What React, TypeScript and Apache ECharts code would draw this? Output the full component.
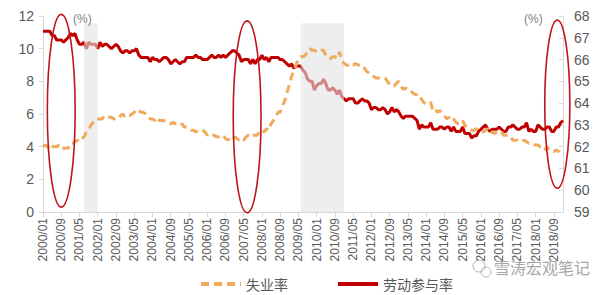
import React, { useEffect, useRef } from "react";
import * as echarts from "echarts";

// Monthly categories 2000/01 .. 2019/01
const categories: string[] = [];
for (let y = 2000; y <= 2018; y++) {
  for (let m = 1; m <= 12; m++) categories.push(`${y}/${m < 10 ? "0" + m : m}`);
}
categories.push("2019/01");

// 失业率 (%), left axis
const unemployment: number[] = [
  4.0, 4.1, 4.0, 3.8, 4.0, 4.0, 4.0, 4.1, 3.9, 3.9, 3.9, 3.9, // 2000
  4.2, 4.2, 4.3, 4.4, 4.3, 4.5, 4.6, 4.9, 5.0, 5.3, 5.5, 5.7, // 2001
  5.7, 5.7, 5.7, 5.9, 5.8, 5.8, 5.8, 5.7, 5.7, 5.7, 5.9, 6.0, // 2002
  5.8, 5.9, 5.9, 6.0, 6.1, 6.3, 6.2, 6.1, 6.1, 6.0, 5.8, 5.7, // 2003
  5.7, 5.6, 5.8, 5.6, 5.6, 5.6, 5.5, 5.4, 5.4, 5.5, 5.4, 5.4, // 2004
  5.3, 5.4, 5.2, 5.2, 5.1, 5.0, 5.0, 4.9, 5.0, 5.0, 5.0, 4.9, // 2005
  4.7, 4.8, 4.7, 4.7, 4.6, 4.6, 4.7, 4.7, 4.5, 4.4, 4.5, 4.4, // 2006
  4.6, 4.5, 4.4, 4.5, 4.4, 4.6, 4.7, 4.6, 4.7, 4.7, 4.7, 5.0, // 2007
  5.0, 4.9, 5.1, 5.0, 5.4, 5.6, 5.8, 6.1, 6.1, 6.5, 6.8, 7.3, // 2008
  7.8, 8.3, 8.7, 9.0, 9.4, 9.5, 9.5, 9.6, 9.8, 10.0, 9.9, 9.9, // 2009
  9.8, 9.8, 9.9, 9.9, 9.6, 9.4, 9.4, 9.5, 9.5, 9.4, 9.8, 9.3, // 2010
  9.1, 9.0, 9.0, 9.1, 9.0, 9.1, 9.0, 9.0, 9.0, 8.8, 8.6, 8.5, // 2011
  8.3, 8.3, 8.2, 8.2, 8.2, 8.2, 8.2, 8.0, 7.8, 7.8, 7.7, 7.9, // 2012
  8.0, 7.7, 7.5, 7.6, 7.5, 7.5, 7.3, 7.2, 7.2, 7.2, 6.9, 6.7, // 2013
  6.6, 6.7, 6.7, 6.2, 6.3, 6.1, 6.2, 6.1, 5.9, 5.7, 5.8, 5.6, // 2014
  5.7, 5.5, 5.4, 5.4, 5.6, 5.3, 5.2, 5.1, 5.0, 5.0, 5.1, 5.0, // 2015
  4.9, 4.9, 5.0, 5.1, 4.8, 4.9, 4.8, 4.9, 5.0, 4.9, 4.7, 4.7, // 2016
  4.7, 4.6, 4.4, 4.4, 4.4, 4.3, 4.3, 4.4, 4.3, 4.2, 4.2, 4.1, // 2017
  4.1, 4.1, 4.0, 4.0, 3.8, 4.0, 3.8, 3.8, 3.7, 3.8, 3.7, 3.9, // 2018
  4.0, // 2019
];

// 劳动参与率 (%), right axis
const participation: number[] = [
  67.3, 67.3, 67.3, 67.3, 67.1, 67.1, 66.9, 66.9, 66.9, 66.8, 66.9, 67.0, // 2000
  67.2, 67.1, 67.2, 66.9, 66.7, 66.7, 66.8, 66.5, 66.8, 66.7, 66.7, 66.7, // 2001
  66.5, 66.8, 66.6, 66.7, 66.7, 66.6, 66.5, 66.6, 66.7, 66.6, 66.4, 66.3, // 2002
  66.4, 66.4, 66.3, 66.4, 66.4, 66.5, 66.2, 66.1, 66.1, 66.1, 66.1, 65.9, // 2003
  66.1, 66.0, 66.0, 65.9, 66.0, 66.1, 66.1, 66.0, 65.8, 65.9, 66.0, 65.9, // 2004
  65.8, 65.9, 65.9, 66.1, 66.1, 66.1, 66.1, 66.2, 66.1, 66.1, 66.0, 66.0, // 2005
  66.0, 66.1, 66.2, 66.1, 66.1, 66.2, 66.1, 66.2, 66.1, 66.2, 66.3, 66.4, // 2006
  66.4, 66.3, 66.2, 65.9, 66.0, 66.0, 66.0, 65.8, 66.0, 65.8, 66.0, 66.0, // 2007
  66.2, 66.0, 66.1, 65.9, 66.1, 66.1, 66.1, 66.1, 66.0, 66.0, 65.9, 65.8, // 2008
  65.7, 65.8, 65.6, 65.7, 65.7, 65.7, 65.5, 65.4, 65.1, 65.0, 65.0, 64.6, // 2009
  64.8, 64.9, 64.9, 65.1, 64.9, 64.6, 64.6, 64.7, 64.6, 64.4, 64.6, 64.3, // 2010
  64.2, 64.1, 64.2, 64.2, 64.2, 64.0, 64.0, 64.1, 64.2, 64.1, 64.1, 64.0, // 2011
  63.7, 63.8, 63.8, 63.7, 63.7, 63.8, 63.7, 63.5, 63.6, 63.8, 63.6, 63.7, // 2012
  63.6, 63.4, 63.3, 63.4, 63.4, 63.4, 63.4, 63.3, 63.2, 62.8, 63.0, 62.9, // 2013
  62.9, 62.9, 63.1, 62.8, 62.8, 62.8, 62.9, 62.9, 62.8, 62.9, 62.9, 62.7, // 2014
  62.9, 62.7, 62.7, 62.7, 62.9, 62.6, 62.6, 62.6, 62.4, 62.5, 62.5, 62.7, // 2015
  62.8, 62.9, 63.0, 62.8, 62.7, 62.8, 62.8, 62.8, 62.9, 62.8, 62.7, 62.7, // 2016
  62.9, 62.9, 63.0, 62.9, 62.8, 62.8, 62.9, 62.9, 63.1, 62.7, 62.8, 62.7, // 2017
  62.7, 63.0, 62.9, 62.8, 62.8, 62.9, 62.9, 62.7, 62.7, 62.9, 62.9, 63.1, // 2018
  63.2, // 2019
];

// Shaded periods [start, end]
const shadedPeriods: [string, string][] = [
  ["2001/07", "2002/01"],
  ["2009/06", "2011/01"],
];
const shadeTop = 11.55;

// Highlight ellipses: centre (category index), half width in months, top/bottom in left-axis units
const highlights = [
  { center: 8, halfMonths: 6.1, top: 12.1, bottom: 0.3 },
  { center: 89.5, halfMonths: 6.1, top: 11.7, bottom: -0.05 },
  { center: 225.5, halfMonths: 5.5, top: 11.75, bottom: 1.45 },
];

const leftTicks = { min: 0, max: 12, interval: 2 };
const rightTicks = { min: 59, max: 68, interval: 1 };

const RED = "#C00000";
const ORANGE = "#F0AA5A";
const GRAY_TEXT = "#595959";
const AXIS_GRAY = "#D9D9D9";

export default function App() {
  const ref = useRef<HTMLDivElement>(null);

  useEffect(() => {
    if (!ref.current) return;
    const chart = echarts.init(ref.current, undefined, { renderer: "svg" });
    const option: any = {
      animation: false,
      grid: { left: 43, right: 37, top: 16, bottom: 83, containLabel: false },
      legend: {
        data: ["失业率", "劳动参与率"],
        left: 194,
        top: 272,
        itemGap: 48,
        itemWidth: 40,
        itemHeight: 12,
        itemStyle: { opacity: 0 },
        lineStyle: { width: 4 },
        textStyle: { fontFamily: "Noto Sans CJK SC", fontSize: 14, color: GRAY_TEXT },
      },
      xAxis: {
        type: "category",
        data: categories,
        boundaryGap: false,
        axisLine: { lineStyle: { color: AXIS_GRAY } },
        axisTick: { interval: 7, length: 5, lineStyle: { color: AXIS_GRAY } },
        axisLabel: {
          interval: 7,
          rotate: 90,
          fontSize: 12,
          color: GRAY_TEXT,
          fontFamily: "Liberation Sans",
          margin: 6,
        },
        splitLine: { show: false },
      },
      yAxis: [
        {
          type: "value",
          ...leftTicks,
          axisLine: { show: true, lineStyle: { color: AXIS_GRAY } },
          axisTick: { show: true, length: 4, lineStyle: { color: AXIS_GRAY } },
          axisLabel: { fontSize: 14, color: GRAY_TEXT, fontFamily: "Liberation Sans", margin: 9 },
          splitLine: { show: false },
        },
        {
          type: "value",
          ...rightTicks,
          position: "right",
          axisLine: { show: true, lineStyle: { color: AXIS_GRAY } },
          axisTick: { show: true, inside: true, length: 4, lineStyle: { color: AXIS_GRAY } },
          axisLabel: { fontSize: 14, color: GRAY_TEXT, fontFamily: "Liberation Sans", margin: 11 },
          splitLine: { show: false },
        },
      ],
      series: [
        {
          name: "劳动参与率",
          type: "line",
          yAxisIndex: 1,
          data: participation,
          showSymbol: false,
          symbol: "none",
          z: 2,
          lineStyle: { color: RED, width: 3 },
          itemStyle: { color: RED },
        },
        {
          name: "shade",
          type: "line",
          yAxisIndex: 0,
          data: [],
          symbol: "none",
          z: 3,
          markArea: {
            silent: true,
            z: 3,
            itemStyle: { color: "rgba(226,226,226,0.58)" },
            data: shadedPeriods.map(([a, b]) => [
              { xAxis: a, yAxis: 0 },
              { xAxis: b, yAxis: shadeTop },
            ]),
          },
        },
        {
          name: "失业率",
          type: "line",
          yAxisIndex: 0,
          data: unemployment,
          showSymbol: false,
          symbol: "none",
          z: 4,
          lineStyle: { color: ORANGE, width: 3, type: [8, 5] },
          itemStyle: { color: ORANGE },
        },
      ],
    };
    chart.setOption(option);

    const p0 = chart.convertToPixel({ xAxisIndex: 0, yAxisIndex: 0 }, [0, 0]) as number[];
    const p1 = chart.convertToPixel({ xAxisIndex: 0, yAxisIndex: 0 }, [1, 0]) as number[];
    const step = p1[0] - p0[0];
    const ellipses = highlights.map((h) => {
      const top = chart.convertToPixel({ yAxisIndex: 0 }, h.top) as number;
      const bottom = chart.convertToPixel({ yAxisIndex: 0 }, h.bottom) as number;
      return {
        type: "ellipse",
        shape: {
          cx: p0[0] + h.center * step,
          cy: (top + bottom) / 2,
          rx: h.halfMonths * step,
          ry: Math.abs(bottom - top) / 2,
        },
        style: { fill: "none", stroke: "#C0141C", lineWidth: 1.6 },
        z: 10,
        silent: true,
      };
    });

    chart.setOption({
      graphic: [
        ...ellipses,
        {
          type: "text",
          left: 73,
          top: 13,
          style: { text: "(%)", fontSize: 12, fill: "#7F7F7F", fontFamily: "Liberation Sans" },
          z: 11,
        },
        {
          type: "text",
          left: 524,
          top: 13,
          style: { text: "(%)", fontSize: 12, fill: "#7F7F7F", fontFamily: "Liberation Sans" },
          z: 11,
        },
        {
          type: "circle",
          shape: { cx: 479, cy: 266, r: 6 },
          style: { fill: "none", stroke: "#B5B5B5", lineWidth: 1 },
        },
        {
          type: "circle",
          shape: { cx: 486, cy: 272, r: 5 },
          style: { fill: "none", stroke: "#B5B5B5", lineWidth: 1 },
        },
        {
          type: "text",
          left: 494,
          top: 259,
          style: {
            text: "雪涛宏观笔记",
            fontSize: 16,
            fill: "#A6A6A6",
            fontFamily: "Noto Sans CJK SC",
          },
        },
      ],
    });

    return () => chart.dispose();
  }, []);

  return <div ref={ref} style={{ width: 600, height: 295, marginLeft: -8, marginTop: -8 }} />;
}
